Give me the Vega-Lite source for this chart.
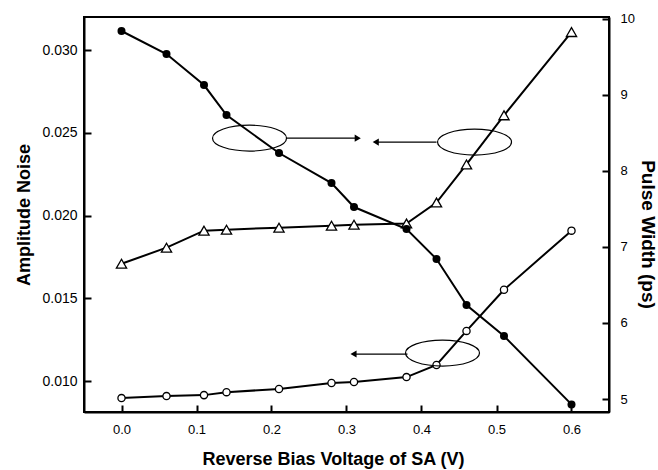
{
  "$schema": "https://vega.github.io/schema/vega-lite/v6.json",
  "width": 525,
  "height": 395,
  "autosize": {"type": "none"},
  "padding": {"left": 84, "top": 17, "right": 49, "bottom": 58},
  "background": "white",
  "config": {
    "view": {"stroke": "black", "strokeWidth": 2},
    "font": "Liberation Sans",
    "axis": {
      "grid": false,
      "domainColor": "black",
      "domainWidth": 2,
      "tickColor": "black",
      "tickWidth": 2,
      "tickSize": -7,
      "labelColor": "black",
      "labelFontSize": 13,
      "labelFont": "Liberation Sans",
      "titleFont": "Liberation Sans",
      "titleFontSize": 18,
      "titleFontWeight": "bold",
      "titleColor": "black"
    }
  },
  "datasets": {
    "noise": [
      {"v": 0.0, "noise": 0.01709, "curve": "tri"},
      {"v": 0.06, "noise": 0.01806, "curve": "tri"},
      {"v": 0.11, "noise": 0.01909, "curve": "tri"},
      {"v": 0.14, "noise": 0.01915, "curve": "tri"},
      {"v": 0.21, "noise": 0.01927, "curve": "tri"},
      {"v": 0.28, "noise": 0.01939, "curve": "tri"},
      {"v": 0.31, "noise": 0.01945, "curve": "tri"},
      {"v": 0.38, "noise": 0.01952, "curve": "tri"},
      {"v": 0.42, "noise": 0.02079, "curve": "tri"},
      {"v": 0.46, "noise": 0.02309, "curve": "tri"},
      {"v": 0.51, "noise": 0.02606, "curve": "tri"},
      {"v": 0.6, "noise": 0.03109, "curve": "tri"},
      {"v": 0.0, "noise": 0.00897, "curve": "open"},
      {"v": 0.06, "noise": 0.00909, "curve": "open"},
      {"v": 0.11, "noise": 0.00915, "curve": "open"},
      {"v": 0.14, "noise": 0.00933, "curve": "open"},
      {"v": 0.21, "noise": 0.00952, "curve": "open"},
      {"v": 0.28, "noise": 0.00988, "curve": "open"},
      {"v": 0.31, "noise": 0.00994, "curve": "open"},
      {"v": 0.38, "noise": 0.01024, "curve": "open"},
      {"v": 0.42, "noise": 0.01097, "curve": "open"},
      {"v": 0.46, "noise": 0.01303, "curve": "open"},
      {"v": 0.51, "noise": 0.01552, "curve": "open"},
      {"v": 0.6, "noise": 0.01909, "curve": "open"}
    ],
    "pulse": [
      {"v": 0.0, "width": 9.836},
      {"v": 0.06, "width": 9.534},
      {"v": 0.11, "width": 9.126},
      {"v": 0.14, "width": 8.732},
      {"v": 0.21, "width": 8.233},
      {"v": 0.28, "width": 7.838},
      {"v": 0.31, "width": 7.523},
      {"v": 0.38, "width": 7.234},
      {"v": 0.42, "width": 6.84},
      {"v": 0.46, "width": 6.235},
      {"v": 0.51, "width": 5.828},
      {"v": 0.6, "width": 4.93}
    ],
    "ellipses": [
      {"v": 0.1707, "noise": 0.02468},
      {"v": 0.4707, "noise": 0.02444},
      {"v": 0.428, "noise": 0.01169}
    ],
    "arrows": [
      {"v": 0.22, "v2": 0.315, "noise": 0.02468, "dir": "right"},
      {"v": 0.42, "v2": 0.339, "noise": 0.02444, "dir": "left"},
      {"v": 0.3813, "v2": 0.3093, "noise": 0.01163, "dir": "left"}
    ]
  },
  "layer": [
    {
      "layer": [
        {
          "data": {"name": "noise"},
          "mark": {"type": "line", "color": "black", "strokeWidth": 2},
          "encoding": {
            "x": {
              "field": "v", "type": "quantitative",
              "scale": {"domain": [-0.05, 0.65], "nice": false, "zero": false},
              "axis": {
                "values": [0, 0.1, 0.2, 0.3, 0.4, 0.5, 0.6],
                "format": ".1f",
                "title": "Reverse Bias Voltage of SA (V)",
                "titleX": 249,
                "labelPadding": 18,
                "titlePadding": 14
              }
            },
            "y": {
              "field": "noise", "type": "quantitative",
              "scale": {"domain": [0.00813, 0.032], "nice": false, "zero": false},
              "axis": {
                "orient": "left",
                "values": [0.01, 0.015, 0.02, 0.025, 0.03],
                "format": ".3f",
                "title": "Amplitude Noise",
                "labelFontSize": 14,
                "labelPadding": 14,
                "titlePadding": 8
              }
            },
            "detail": {"field": "curve"}
          }
        },
        {
          "data": {"name": "noise"},
          "mark": {"type": "point", "filled": true, "fill": "white", "stroke": "black", "strokeWidth": 1.3, "opacity": 1},
          "encoding": {
            "x": {"field": "v", "type": "quantitative"},
            "y": {"field": "noise", "type": "quantitative"},
            "shape": {
              "field": "curve", "type": "nominal",
              "scale": {"domain": ["tri", "open"], "range": ["triangle-up", "circle"]},
              "legend": null
            },
            "size": {
              "field": "curve", "type": "nominal",
              "scale": {"domain": ["tri", "open"], "range": [105, 52]},
              "legend": null
            }
          }
        },
        {
          "data": {"name": "ellipses"},
          "mark": {
            "type": "point",
            "shape": "M-1,0A1,0.35,0,1,1,1,0A1,0.35,0,1,1,-1,0Z",
            "size": 5476,
            "filled": false,
            "stroke": "black",
            "strokeWidth": 1.2,
            "opacity": 1
          },
          "encoding": {
            "x": {"field": "v", "type": "quantitative"},
            "y": {"field": "noise", "type": "quantitative"}
          }
        },
        {
          "data": {"name": "arrows"},
          "mark": {"type": "rule", "color": "black", "strokeWidth": 1.2},
          "encoding": {
            "x": {"field": "v", "type": "quantitative"},
            "x2": {"field": "v2"},
            "y": {"field": "noise", "type": "quantitative"}
          }
        },
        {
          "data": {"name": "arrows"},
          "mark": {"type": "point", "filled": true, "color": "black", "size": 50, "opacity": 1},
          "encoding": {
            "x": {"field": "v2", "type": "quantitative"},
            "y": {"field": "noise", "type": "quantitative"},
            "shape": {
              "field": "dir", "type": "nominal",
              "scale": {"domain": ["right", "left"], "range": ["triangle-right", "triangle-left"]},
              "legend": null
            }
          }
        }
      ],
      "resolve": {"scale": {"shape": "independent", "size": "independent"}}
    },
    {
      "data": {"name": "pulse"},
      "layer": [
        {
          "mark": {"type": "line", "color": "black", "strokeWidth": 2},
          "encoding": {
            "x": {"field": "v", "type": "quantitative"},
            "y": {
              "field": "width", "type": "quantitative",
              "scale": {"domain": [4.83, 10.02], "nice": false, "zero": false},
              "axis": {
                "orient": "right",
                "values": [5, 5.5, 6, 6.5, 7, 7.5, 8, 8.5, 9, 9.5, 10],
                "labelExpr": "datum.value % 1 == 0 ? format(datum.value, 'd') : ''",
                "title": "Pulse Width (ps)",
                "titleFontSize": 19,
                "titleY": 217,
                "labelPadding": 18,
                "titlePadding": 3
              }
            }
          }
        },
        {
          "mark": {"type": "point", "filled": true, "color": "black", "size": 64, "opacity": 1},
          "encoding": {
            "x": {"field": "v", "type": "quantitative"},
            "y": {"field": "width", "type": "quantitative"}
          }
        }
      ]
    }
  ],
  "resolve": {"scale": {"y": "independent"}}
}
